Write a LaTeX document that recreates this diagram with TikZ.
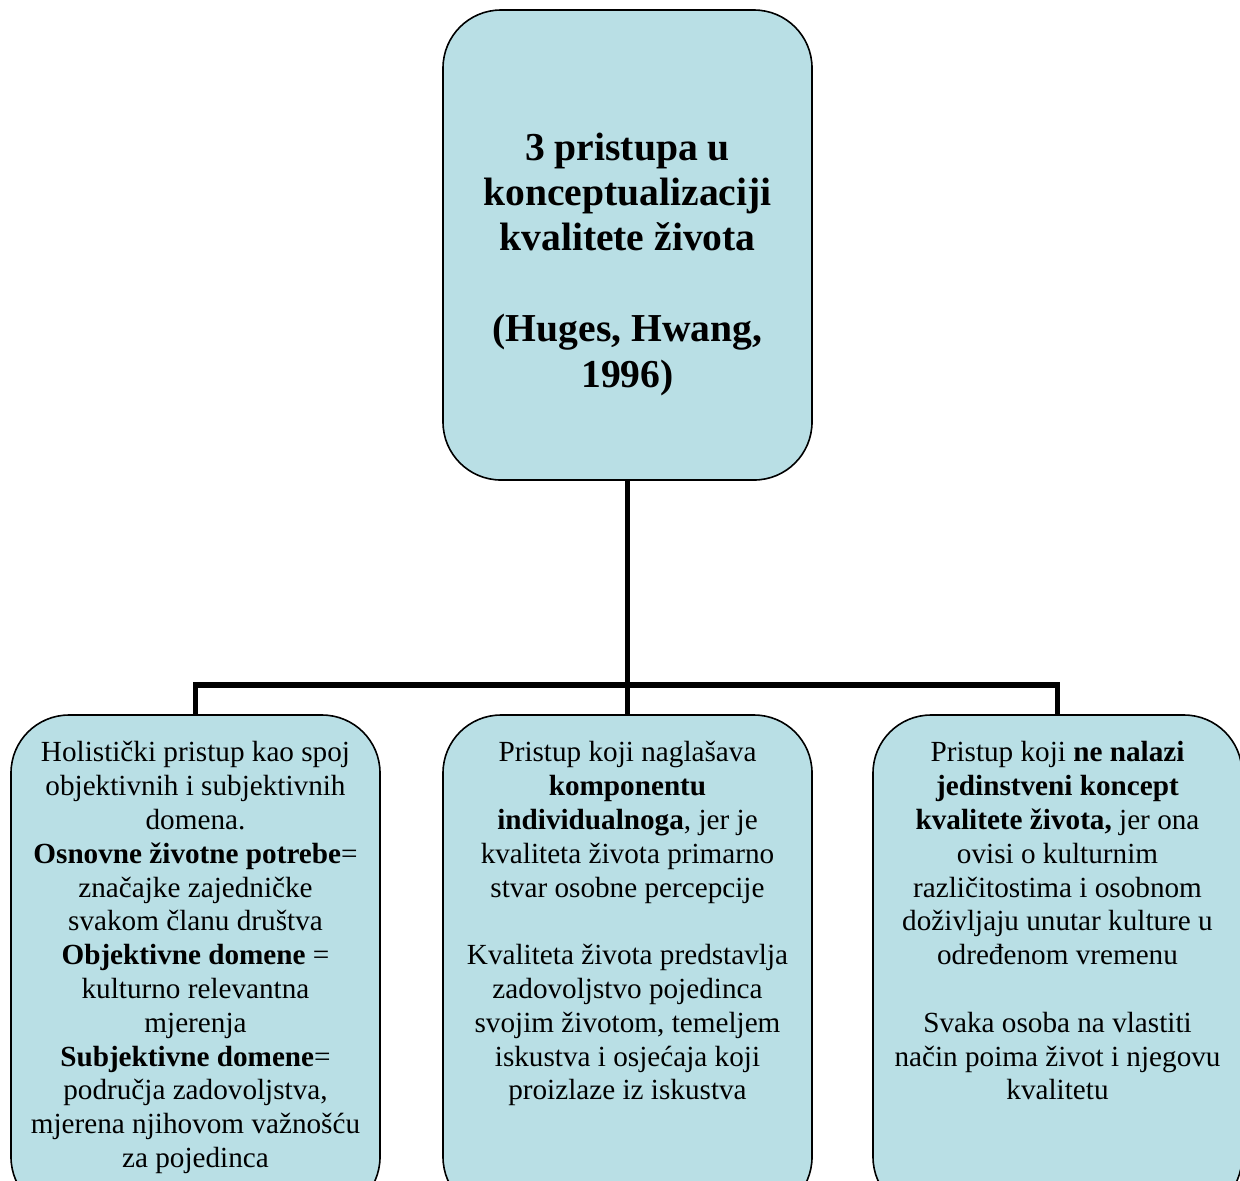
\documentclass[tikz,border=0pt]{standalone}
\usepackage{fontspec}
\setmainfont{Liberation Serif}
\usetikzlibrary{positioning}
\begin{document}
\begin{tikzpicture}[x=0.5pt,y=-0.5pt,
  box/.style={draw=black,line width=0.8pt,fill=fillColor,rounded corners=29pt,minimum width=184.5pt,inner sep=0pt},
  topbox/.style={box,minimum height=235pt},
  lowbox/.style={box,minimum height=250pt},
  titletext/.style={align=center,inner sep=0pt,font=\fontsize{19.8}{22.7}\selectfont\bfseries},
  bodytext/.style={align=center,inner sep=0pt,font=\fontsize{14.6}{16.9}\selectfont},
  link/.style={draw=black,line width=2.9pt,line join=miter}]
\definecolor{fillColor}{RGB}{185,223,229}
\path[use as bounding box] (0,0) rectangle (1240,1180);

\node[topbox] (title) at (627.5,245) {};
\node[titletext] (titletxt) at (627.5,264) {3 pristupa u\\konceptualizaciji\\kvalitete života\\[22.7pt](Huges, Hwang,\\1996)};

\node[lowbox] (left) at (195.5,965) {};
\node[lowbox] (mid) at (627.5,965) {};
\node[lowbox] (right) at (1057.5,965) {};

\coordinate (hub) at (627.5,685);
\draw[link] (left.north) |- (hub) -| (right.north);
\draw[link] (title.south) -- (mid.north);

\node[bodytext,below=13.5pt of left.north] (lefttxt) {Holistički pristup kao spoj\\
  objektivnih i subjektivnih\\
  domena.\\
  \textbf{Osnovne životne potrebe}=\\
  značajke zajedničke\\
  svakom članu društva\\
  \textbf{Objektivne domene} =\\
  kulturno relevantna\\
  mjerenja\\
  \textbf{Subjektivne domene}=\\
  područja zadovoljstva,\\
  mjerena njihovom važnošću\\
  za pojedinca};

\node[bodytext,below=13.5pt of mid.north] (midtxt) {Pristup koji naglašava\\
  \textbf{komponentu}\\
  \textbf{individualnoga}, jer je\\
  kvaliteta života primarno\\
  stvar osobne percepcije\\[16.9pt]
  Kvaliteta života predstavlja\\
  zadovoljstvo pojedinca\\
  svojim životom, temeljem\\
  iskustva i osjećaja koji\\
  proizlaze iz iskustva};

\node[bodytext,below=13.5pt of right.north] (righttxt) {Pristup koji \textbf{ne nalazi}\\
  \textbf{jedinstveni koncept}\\
  \textbf{kvalitete života,} jer ona\\
  ovisi o kulturnim\\
  različitostima i osobnom\\
  doživljaju unutar kulture u\\
  određenom vremenu\\[16.9pt]
  Svaka osoba na vlastiti\\
  način poima život i njegovu\\
  kvalitetu};
\end{tikzpicture}
\end{document}
